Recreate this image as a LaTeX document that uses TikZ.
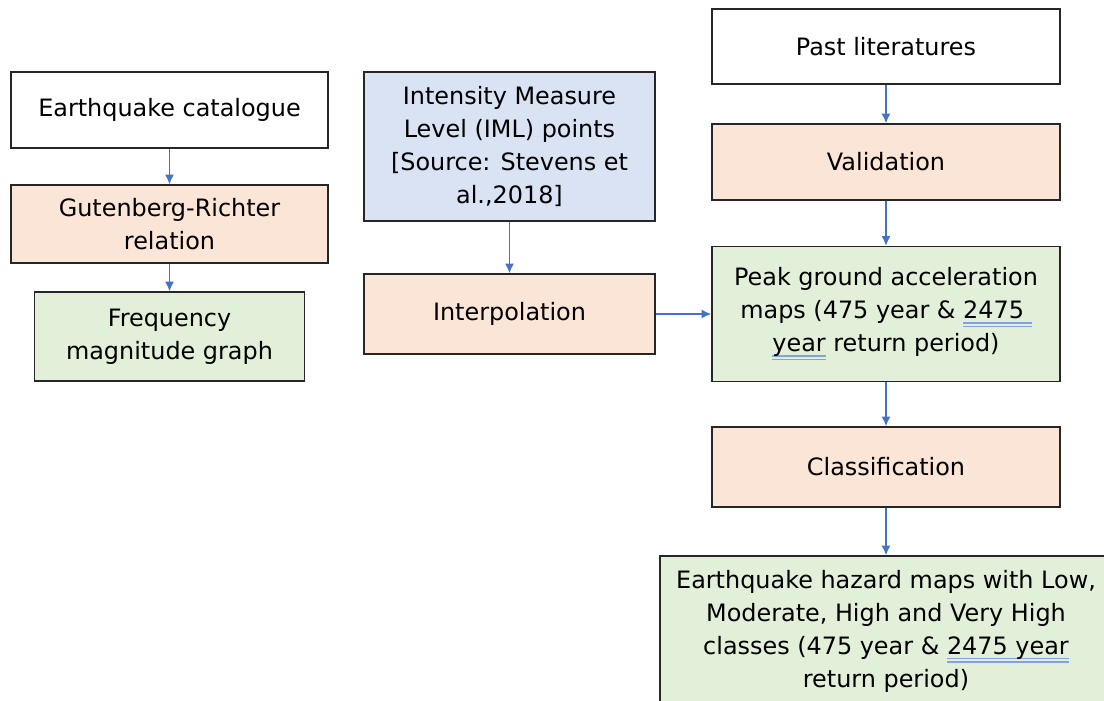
\documentclass[tikz,border=0pt]{standalone}
\usepackage{fontspec}
\setmainfont{DejaVu Sans}
\usetikzlibrary{positioning,arrows,arrows.meta}
\definecolor{peach}{HTML}{FBE5D6}
\definecolor{paleblue}{HTML}{DAE3F3}
\definecolor{palegreen}{HTML}{E2F0D9}
\definecolor{flowblue}{HTML}{4472C4}
\definecolor{ulblue}{HTML}{7FA3E6}
% double underline under a word
\newcommand{\dblul}[1]{\setbox0\hbox{#1}\rlap{\color{ulblue}\rule[-3.6pt]{\wd0}{1.1pt}}\rlap{\color{ulblue}\rule[-6pt]{\wd0}{1.1pt}}\box0\relax}

\begin{document}
\begin{tikzpicture}[x=0.025cm,y=-0.025cm]
		\tikzstyle{every node}+=[font=\fontsize{17}{23.5}\selectfont, align=center, inner sep=0pt]
		\tikzstyle{box}=[draw=black!85, line width=0.8pt, rectangle]
		\tikzstyle{arr}=[-{Latex[length=7pt,width=6.5pt]}, draw=flowblue, line width=1.3pt]
		\useasboundingbox (0,0) rectangle (1104,700);
		% left column
		\node [box, fill=white, minimum width=7.925cm, minimum height=1.9cm] (cat) at (169.5,110) {Earthquake catalogue};
		\node [box, fill=peach, minimum width=7.925cm, minimum height=1.95cm] (gr) at (169.5,224) {Gutenberg-Richter\\relation};
		\node [box, fill=palegreen, minimum width=6.75cm, minimum height=2.225cm] (freq) at (169.5,336.5) {Frequency\\magnitude graph};
		% middle column
		\node [box, fill=paleblue, minimum width=7.275cm, minimum height=3.725cm] (iml) at (509.5,146.5) {Intensity Measure\\Level (IML) points\\{}[Source: Stevens et\\al.,2018]};
		\node [box, fill=peach, minimum width=7.275cm, minimum height=2cm] (interp) at (509.5,314) {Interpolation};
		% right column
		\node [box, fill=white, minimum width=8.7cm, minimum height=1.875cm] (past) at (886,46.5) {Past literatures};
		\node [box, fill=peach, minimum width=8.7cm, minimum height=1.9cm] (valid) at (886,162) {Validation};
		\node [box, fill=palegreen, minimum width=8.7cm, minimum height=3.375cm] (pga) at (886,314) {Peak ground acceleration\\maps (475 year \& \dblul{2475\ }\\\dblul{year} return period)};
		\node [box, fill=peach, minimum width=8.7cm, minimum height=2cm] (class) at (886,467) {Classification};
		\node [box, fill=palegreen, minimum width=11.3cm, minimum height=3.75cm] (hazard) at (886,631) {Earthquake hazard maps with Low,\\Moderate, High and Very High\\classes (475 year \& \dblul{2475 year}\\return period)};
		% connectors
		\draw [arr] (cat) -- (gr);
		\draw [arr] (gr) -- (freq);
		\draw [arr] (iml) -- (interp);
		\draw [arr] (interp) -- (pga);
		\draw [arr] (past) -- (valid);
		\draw [arr] (valid) -- (pga);
		\draw [arr] (pga) -- (class);
		\draw [arr] (class) -- (hazard);
\end{tikzpicture}
\end{document}
